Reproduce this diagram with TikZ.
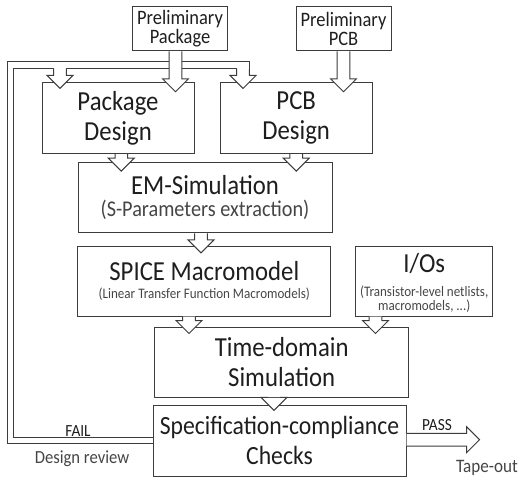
\documentclass[tikz,border=0pt]{standalone}
\usepackage{fontspec}
\setmainfont{Carlito}[FakeStretch=0.9]
\usetikzlibrary{calc}

\definecolor{boxline}{HTML}{3C3C3C}
\definecolor{inktext}{HTML}{1E1E1E}
\definecolor{softtext}{HTML}{454545}

\newcommand{\bigtxt}{\fontsize{27.5}{30}\selectfont}
\newcommand{\midtxt}{\fontsize{22.5}{22}\selectfont}
\newcommand{\smalltxt}{\fontsize{14.5}{11}\selectfont}
\newcommand{\pretxt}{\fontsize{20.5}{19.5}\selectfont}

% hollow block arrow: start point, target anchor, overlap of the tip
\newcommand{\blockdown}[3]{%
  \draw[blockarrow] let \p1=(#1), \p2=(#2) in
    (\x1-6.3pt,\y1) -- (\x1-6.3pt,\y2-#3pt+13pt) -- (\x1-13pt,\y2-#3pt+13pt)
    -- (\x1,\y2-#3pt) -- (\x1+13pt,\y2-#3pt+13pt) -- (\x1+6.3pt,\y2-#3pt+13pt)
    -- (\x1+6.3pt,\y1);}

\begin{document}
\begin{tikzpicture}[x=1pt,y=-1pt,
		stage/.style={draw=boxline,line width=1pt,inner sep=0pt,align=center,text=inktext,font=\bigtxt},
		blockarrow/.style={draw=boxline,line width=1pt,fill=white,line join=miter},
		loopline/.style={draw=boxline,line width=1pt}]
		\useasboundingbox (0,0) rectangle (525,483);

		\node[stage,font=\pretxt,minimum width=94.6,minimum height=44.3] (prepkg) at (180,28.8)
			{Preliminary\\Package};
		\node[stage,font=\pretxt,minimum width=95,minimum height=44.3] (prepcb) at (343.5,28.8)
			{Preliminary\\PCB};
		\node[stage,minimum width=152,minimum height=70.7] (pkg) at (118,118.3)
			{Package\\Design};
		\node[stage,minimum width=152.3,minimum height=70.7] (pcb) at (296.2,118.3)
			{PCB\\Design};
		\node[stage,minimum width=254,minimum height=70.3] (em) at (205,197.8)
			{EM-Simulation\\[-8pt]\midtxt\color{softtext}(S-Parameters extraction)};
		\node[stage,minimum width=252.7,minimum height=69.7] (spice) at (204.3,281.2)
			{SPICE Macromodel\\[-12pt]\smalltxt\color{softtext}(Linear Transfer Function Macromodels)};
		\node[stage,minimum width=137,minimum height=69.7] (ios) at (424.2,281.2)
			{\rule{0pt}{23pt}I/Os\\[-6pt]\smalltxt\color{softtext}(Transistor-level netlists,\\[-16pt]\smalltxt\color{softtext}macromodels, ...)};
		\node[stage,minimum width=254,minimum height=70] (tds) at (281.7,362.3)
			{Time-domain\\Simulation};
		\node[stage,font=\fontsize{26.3}{30}\selectfont,minimum width=253,minimum height=70.7] (spec) at (279.5,440.7)
			{Specification-compliance\\Checks};

		% feedback loop back to the design boxes
		\draw[loopline] ([yshift=-3pt]spec.west) -| (7.3,61.3) -| (249.3,68.7);
		\draw[loopline] ([yshift=3pt]spec.west) -| (13.3,68.7) -- (53.7,68.7);
		\draw[loopline] (66.3,68.7) -- (236.7,68.7);
		\blockdown{60,68.7}{pkg.north}{6}
		\blockdown{243,68.7}{pcb.north}{6}

		\blockdown{$(prepkg.south)+(-4.5,0)$}{pkg.north}{9.3}
		\blockdown{prepcb.south}{pcb.north}{9.3}
		\blockdown{$(pkg.south)+(3.3,0)$}{em.north}{9}
		\blockdown{pcb.south}{em.north}{9}
		\blockdown{$(em.south)+(-4,0)$}{spice.north}{7}
		\blockdown{$(spice.south)+(-15.3,0)$}{tds.north}{6.7}
		\blockdown{$(ios.south)+(-48.7,0)$}{tds.north}{6.7}
		\blockdown{$(tds.south)+(-7.7,0)$}{spec.north}{5.5}

		\draw[blockarrow] let \p1=([yshift=1pt]spec.east) in
			(\x1,\y1+6.3pt) -- (\x1+60pt,\y1+6.3pt) -- (\x1+60pt,\y1+13pt) -- (\x1+73pt,\y1)
			-- (\x1+60pt,\y1-13pt) -- (\x1+60pt,\y1-6.3pt) -- (\x1,\y1-6.3pt);

		\node[text=inktext,font=\fontsize{17}{20}\selectfont] (fail) at (78,431) {FAIL};
		\node[text=softtext,font=\fontsize{18.5}{20}\selectfont] (review) at (82,459) {Design review};
		\node[text=inktext,font=\fontsize{17}{20}\selectfont] (pass) at (437,425) {PASS};
		\node[text=softtext,font=\fontsize{19}{20}\selectfont] (tapeout) at (487,468) {Tape-out};
\end{tikzpicture}
\end{document}
